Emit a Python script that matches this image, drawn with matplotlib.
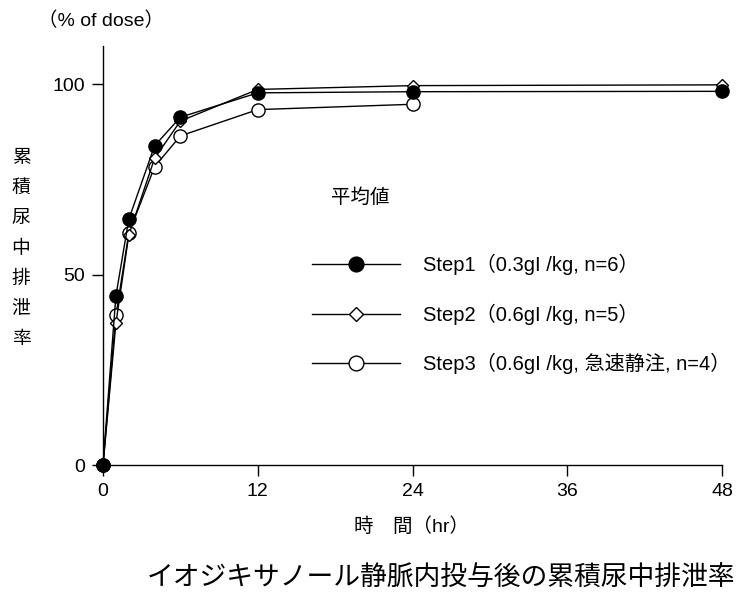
import matplotlib
matplotlib.use("Agg")
import matplotlib.pyplot as plt

plt.rcParams['font.family'] = ['Liberation Sans', 'Noto Sans CJK JP', 'DejaVu Sans']
CJK = ['Noto Sans CJK JP', 'Liberation Sans', 'DejaVu Sans']

# data
hours1 = [0, 1, 2, 4, 6, 12, 24, 48]
step1 = [0, 44.4, 64.5, 83.8, 91.3, 97.7, 98.0, 98.1]
hours2 = [0, 1, 2, 4, 6, 12, 24, 48]
step2 = [0, 37.2, 60.4, 80.5, 90.3, 98.6, 99.6, 99.8]
hours3 = [0, 1, 2, 4, 6, 12, 24]
step3 = [0, 39.3, 60.8, 78.3, 86.4, 93.3, 94.7]
labels = ["Step1（0.3gI /kg, n=6）",
          "Step2（0.6gI /kg, n=5）",
          "Step3（0.6gI /kg, 急速静注, n=4）"]
xticks = [0, 12, 24, 36, 48]
yticks = [0, 50, 100]

fig = plt.figure(figsize=(7.4, 5.95), dpi=100)
ax = fig.add_axes([103/740, (595-465)/595, (722-103)/740, (465-46)/595])

lw = 1.0
h1, = ax.plot(hours1, step1, color='black', lw=lw, marker='o', ms=9.5,
              mfc='black', mec='black', mew=1.0, zorder=5, clip_on=False, label=labels[0])
h2, = ax.plot(hours2, step2, color='black', lw=lw, marker='D', ms=6.5,
              mfc='white', mec='black', mew=1.0, zorder=4, clip_on=False, label=labels[1])
h3, = ax.plot(hours3, step3, color='black', lw=lw, marker='o', ms=9.5,
              mfc='white', mec='black', mew=1.0, zorder=3, clip_on=False, label=labels[2])

ax.set_xlim(0, 48)
ax.set_ylim(0, 110)
ax.set_xticks(xticks)
ax.set_yticks(yticks)
ax.tick_params(direction='out', length=8, width=1.0, labelsize=14, pad=5)
for s in ['top', 'right']:
    ax.spines[s].set_visible(False)
for s in ['left', 'bottom']:
    ax.spines[s].set_linewidth(1.0)

fig.text(411/740, 1 - 527/595, "時　間（hr）", fontsize=14, ha='center', va='center')

fig.text(21/740, 1 - 248/595, "\n".join("累積尿中排泄率"), fontsize=13.5,
         ha='center', va='center', linespacing=1.58, family=CJK)
fig.text(101/740, 1 - 21/595, "（% of dose）", fontsize=14, ha='center', va='center')
fig.text(440.5/740, 1 - 578/595, "イオジキサノール静脈内投与後の累積尿中排泄率",
         fontsize=19.3, ha='center', va='center', fontweight='normal', family=CJK)

fig.text(360/740, 1 - 197/595, "平均値", fontsize=14, ha='center', va='center', family=CJK)

leg = ax.legend(handles=[h1, h2, h3], loc='upper left',
                bbox_to_anchor=(312/740, 1 - 254/595), bbox_transform=fig.transFigure,
                frameon=False, fontsize=14.5, handlelength=4.37, handletextpad=1.14,
                labelspacing=1.41, borderpad=0, borderaxespad=0, numpoints=1,
                markerscale=1.12)

fig.savefig("out.png", dpi=100)
